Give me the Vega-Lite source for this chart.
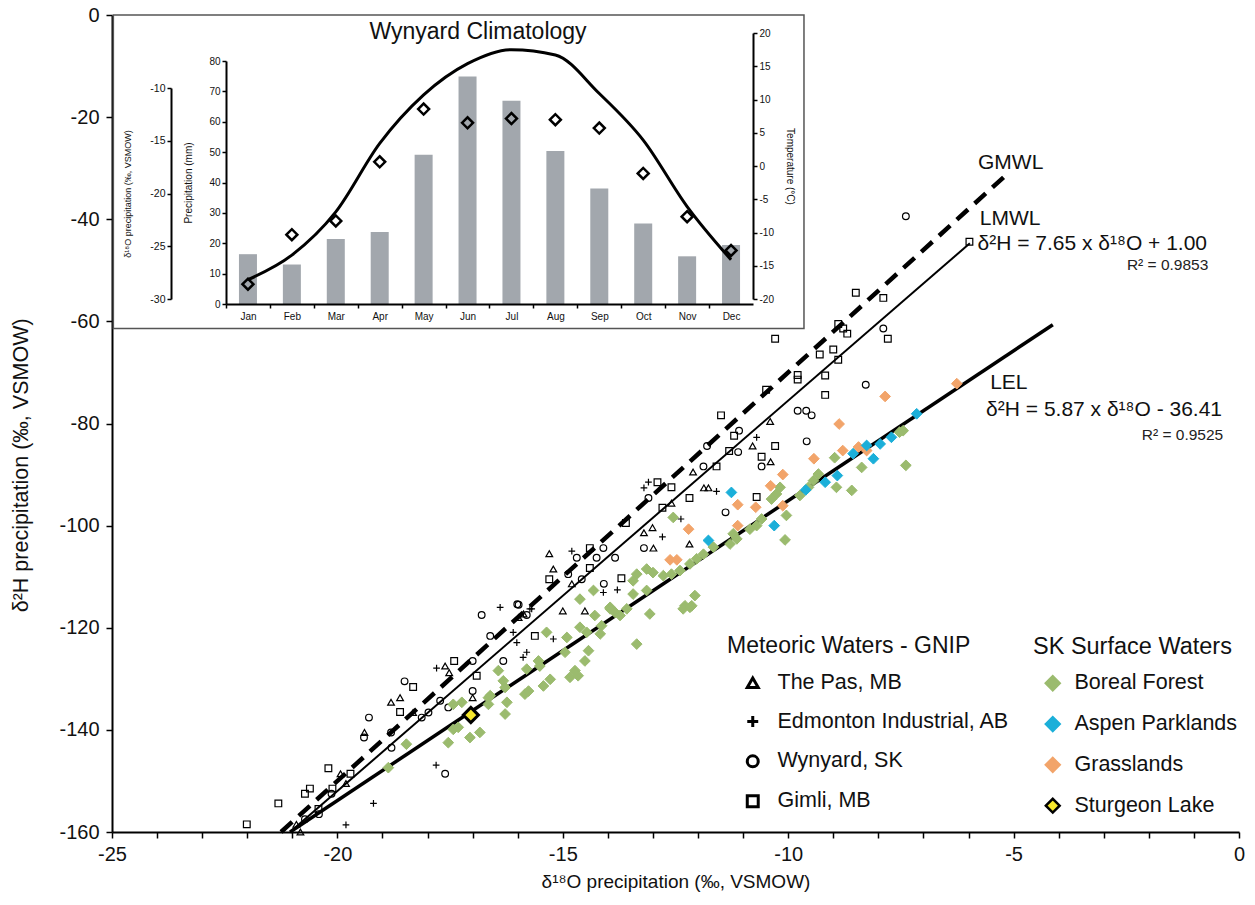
{
  "$schema": "https://vega.github.io/schema/vega-lite/v6.json",
  "width": 1127,
  "height": 817,
  "autosize": {"type": "none"},
  "padding": {"left": 112, "top": 15, "right": 16, "bottom": 73},
  "background": "white",
  "config": {
    "font": "Liberation Sans",
    "view": {"stroke": null}
  },
  "datasets": {
    "lines": [
      {"line": "GMWL", "x": -21.25, "y": -160.0},
      {"line": "GMWL", "x": -5.1, "y": -30.8},
      {"line": "LMWL", "x": -21.05, "y": -160.0},
      {"line": "LMWL", "x": -5.97, "y": -44.7},
      {"line": "LEL", "x": -21.05, "y": -160.0},
      {"line": "LEL", "x": -4.13, "y": -60.65}
    ],
    "meteoric": [
      {"station": "Gimli, MB", "x": -8.50, "y": -54.4},
      {"station": "Gimli, MB", "x": -7.89, "y": -55.4},
      {"station": "Gimli, MB", "x": -8.89, "y": -60.5},
      {"station": "Gimli, MB", "x": -8.78, "y": -61.4},
      {"station": "Gimli, MB", "x": -8.69, "y": -62.4},
      {"station": "Gimli, MB", "x": -7.79, "y": -63.4},
      {"station": "Gimli, MB", "x": -10.29, "y": -63.4},
      {"station": "Gimli, MB", "x": -9.0, "y": -65.5},
      {"station": "Gimli, MB", "x": -9.30, "y": -66.5},
      {"station": "Gimli, MB", "x": -8.89, "y": -67.5},
      {"station": "Gimli, MB", "x": -9.79, "y": -70.5},
      {"station": "Gimli, MB", "x": -9.79, "y": -71.4},
      {"station": "Gimli, MB", "x": -9.18, "y": -70.6},
      {"station": "Gimli, MB", "x": -9.18, "y": -74.4},
      {"station": "Gimli, MB", "x": -10.49, "y": -73.4},
      {"station": "Gimli, MB", "x": -11.49, "y": -78.4},
      {"station": "Gimli, MB", "x": -10.29, "y": -84.4},
      {"station": "Gimli, MB", "x": -10.59, "y": -86.5},
      {"station": "Gimli, MB", "x": -11.20, "y": -82.4},
      {"station": "Gimli, MB", "x": -11.31, "y": -85.4},
      {"station": "Gimli, MB", "x": -11.59, "y": -88.4},
      {"station": "Gimli, MB", "x": -12.90, "y": -91.5},
      {"station": "Gimli, MB", "x": -12.59, "y": -92.5},
      {"station": "Gimli, MB", "x": -12.19, "y": -94.6},
      {"station": "Gimli, MB", "x": -12.79, "y": -96.5},
      {"station": "Gimli, MB", "x": -10.70, "y": -94.4},
      {"station": "Gimli, MB", "x": -13.60, "y": -99.5},
      {"station": "Gimli, MB", "x": -14.40, "y": -104.4},
      {"station": "Gimli, MB", "x": -15.30, "y": -110.5},
      {"station": "Gimli, MB", "x": -13.70, "y": -110.3},
      {"station": "Gimli, MB", "x": -14.40, "y": -108.3},
      {"station": "Gimli, MB", "x": -5.98, "y": -44.4},
      {"station": "Gimli, MB", "x": -22.01, "y": -158.5},
      {"station": "Gimli, MB", "x": -21.31, "y": -154.4},
      {"station": "Gimli, MB", "x": -20.72, "y": -152.5},
      {"station": "Gimli, MB", "x": -20.61, "y": -151.5},
      {"station": "Gimli, MB", "x": -20.20, "y": -147.5},
      {"station": "Gimli, MB", "x": -20.11, "y": -151.5},
      {"station": "Gimli, MB", "x": -19.71, "y": -148.6},
      {"station": "Gimli, MB", "x": -18.61, "y": -136.5},
      {"station": "Gimli, MB", "x": -18.32, "y": -131.6},
      {"station": "Gimli, MB", "x": -17.41, "y": -126.5},
      {"station": "Gimli, MB", "x": -16.91, "y": -129.4},
      {"station": "Gimli, MB", "x": -20.42, "y": -155.5},
      {"station": "Gimli, MB", "x": -15.62, "y": -121.6},
      {"station": "Wynyard, SK", "x": -7.39, "y": -39.4},
      {"station": "Wynyard, SK", "x": -7.89, "y": -61.4},
      {"station": "Wynyard, SK", "x": -8.28, "y": -72.4},
      {"station": "Wynyard, SK", "x": -9.79, "y": -77.5},
      {"station": "Wynyard, SK", "x": -9.60, "y": -77.5},
      {"station": "Wynyard, SK", "x": -9.48, "y": -78.4},
      {"station": "Wynyard, SK", "x": -9.59, "y": -83.5},
      {"station": "Wynyard, SK", "x": -11.09, "y": -81.4},
      {"station": "Wynyard, SK", "x": -11.11, "y": -85.6},
      {"station": "Wynyard, SK", "x": -10.59, "y": -88.4},
      {"station": "Wynyard, SK", "x": -11.80, "y": -84.4},
      {"station": "Wynyard, SK", "x": -11.88, "y": -88.4},
      {"station": "Wynyard, SK", "x": -13.10, "y": -94.6},
      {"station": "Wynyard, SK", "x": -11.39, "y": -97.4},
      {"station": "Wynyard, SK", "x": -13.20, "y": -104.4},
      {"station": "Wynyard, SK", "x": -14.10, "y": -104.4},
      {"station": "Wynyard, SK", "x": -14.69, "y": -106.3},
      {"station": "Wynyard, SK", "x": -14.25, "y": -106.3},
      {"station": "Wynyard, SK", "x": -13.84, "y": -106.3},
      {"station": "Wynyard, SK", "x": -14.88, "y": -109.5},
      {"station": "Wynyard, SK", "x": -14.58, "y": -110.5},
      {"station": "Wynyard, SK", "x": -14.09, "y": -111.4},
      {"station": "Wynyard, SK", "x": -16.01, "y": -115.4},
      {"station": "Wynyard, SK", "x": -20.72, "y": -157.5},
      {"station": "Wynyard, SK", "x": -20.41, "y": -156.5},
      {"station": "Wynyard, SK", "x": -20.13, "y": -152.5},
      {"station": "Wynyard, SK", "x": -19.30, "y": -137.6},
      {"station": "Wynyard, SK", "x": -19.41, "y": -141.5},
      {"station": "Wynyard, SK", "x": -18.81, "y": -140.5},
      {"station": "Wynyard, SK", "x": -18.80, "y": -143.5},
      {"station": "Wynyard, SK", "x": -18.51, "y": -130.5},
      {"station": "Wynyard, SK", "x": -18.13, "y": -137.6},
      {"station": "Wynyard, SK", "x": -17.98, "y": -136.6},
      {"station": "Wynyard, SK", "x": -17.72, "y": -134.3},
      {"station": "Wynyard, SK", "x": -17.54, "y": -135.6},
      {"station": "Wynyard, SK", "x": -17.00, "y": -126.5},
      {"station": "Wynyard, SK", "x": -17.00, "y": -132.4},
      {"station": "Wynyard, SK", "x": -16.80, "y": -117.5},
      {"station": "Wynyard, SK", "x": -16.61, "y": -121.6},
      {"station": "Wynyard, SK", "x": -17.61, "y": -148.6},
      {"station": "Wynyard, SK", "x": -15.98, "y": -115.5},
      {"station": "Wynyard, SK", "x": -15.80, "y": -117.5},
      {"station": "Wynyard, SK", "x": -16.32, "y": -126.5},
      {"station": "The Pas, MB", "x": -10.40, "y": -79.6},
      {"station": "The Pas, MB", "x": -10.79, "y": -84.4},
      {"station": "The Pas, MB", "x": -10.39, "y": -87.5},
      {"station": "The Pas, MB", "x": -12.11, "y": -89.5},
      {"station": "The Pas, MB", "x": -11.87, "y": -92.6},
      {"station": "The Pas, MB", "x": -11.77, "y": -92.6},
      {"station": "The Pas, MB", "x": -12.59, "y": -95.6},
      {"station": "The Pas, MB", "x": -13.20, "y": -101.4},
      {"station": "The Pas, MB", "x": -13.01, "y": -100.4},
      {"station": "The Pas, MB", "x": -12.99, "y": -104.4},
      {"station": "The Pas, MB", "x": -12.19, "y": -103.6},
      {"station": "The Pas, MB", "x": -15.30, "y": -105.5},
      {"station": "The Pas, MB", "x": -15.21, "y": -108.5},
      {"station": "The Pas, MB", "x": -14.80, "y": -111.4},
      {"station": "The Pas, MB", "x": -20.91, "y": -158.5},
      {"station": "The Pas, MB", "x": -20.82, "y": -160.0},
      {"station": "The Pas, MB", "x": -19.93, "y": -148.6},
      {"station": "The Pas, MB", "x": -19.81, "y": -150.5},
      {"station": "The Pas, MB", "x": -19.40, "y": -140.5},
      {"station": "The Pas, MB", "x": -18.81, "y": -134.6},
      {"station": "The Pas, MB", "x": -18.61, "y": -133.7},
      {"station": "The Pas, MB", "x": -18.32, "y": -136.6},
      {"station": "The Pas, MB", "x": -17.61, "y": -127.5},
      {"station": "The Pas, MB", "x": -17.52, "y": -128.8},
      {"station": "The Pas, MB", "x": -17.00, "y": -133.7},
      {"station": "The Pas, MB", "x": -15.98, "y": -118.0},
      {"station": "The Pas, MB", "x": -15.87, "y": -117.3},
      {"station": "The Pas, MB", "x": -15.00, "y": -116.7},
      {"station": "The Pas, MB", "x": -14.51, "y": -116.7},
      {"station": "Edmonton Industrial, AB", "x": -10.70, "y": -82.7},
      {"station": "Edmonton Industrial, AB", "x": -11.59, "y": -93.3},
      {"station": "Edmonton Industrial, AB", "x": -13.10, "y": -91.5},
      {"station": "Edmonton Industrial, AB", "x": -13.20, "y": -92.6},
      {"station": "Edmonton Industrial, AB", "x": -12.38, "y": -98.7},
      {"station": "Edmonton Industrial, AB", "x": -12.79, "y": -102.2},
      {"station": "Edmonton Industrial, AB", "x": -14.80, "y": -105.0},
      {"station": "Edmonton Industrial, AB", "x": -13.79, "y": -112.6},
      {"station": "Edmonton Industrial, AB", "x": -14.10, "y": -113.1},
      {"station": "Edmonton Industrial, AB", "x": -15.73, "y": -116.3},
      {"station": "Edmonton Industrial, AB", "x": -17.80, "y": -127.9},
      {"station": "Edmonton Industrial, AB", "x": -17.81, "y": -146.9},
      {"station": "Edmonton Industrial, AB", "x": -19.20, "y": -154.4},
      {"station": "Edmonton Industrial, AB", "x": -19.81, "y": -158.6},
      {"station": "Edmonton Industrial, AB", "x": -16.39, "y": -116.0},
      {"station": "Edmonton Industrial, AB", "x": -16.10, "y": -120.9},
      {"station": "Edmonton Industrial, AB", "x": -16.02, "y": -122.9},
      {"station": "Edmonton Industrial, AB", "x": -15.88, "y": -125.8},
      {"station": "Edmonton Industrial, AB", "x": -15.80, "y": -124.8},
      {"station": "Edmonton Industrial, AB", "x": -15.69, "y": -116.3},
      {"station": "Edmonton Industrial, AB", "x": -15.21, "y": -122.2}
    ],
    "surface": [
      {"region": "Boreal Forest", "x": -7.45, "y": -81.4},
      {"region": "Boreal Forest", "x": -7.53, "y": -81.7},
      {"region": "Boreal Forest", "x": -7.39, "y": -88.2},
      {"region": "Boreal Forest", "x": -8.37, "y": -88.6},
      {"region": "Boreal Forest", "x": -8.59, "y": -93.1},
      {"region": "Boreal Forest", "x": -8.93, "y": -92.5},
      {"region": "Boreal Forest", "x": -8.97, "y": -86.7},
      {"region": "Boreal Forest", "x": -9.33, "y": -89.9},
      {"region": "Boreal Forest", "x": -9.44, "y": -91.2},
      {"region": "Boreal Forest", "x": -9.55, "y": -92.5},
      {"region": "Boreal Forest", "x": -9.74, "y": -94.1},
      {"region": "Boreal Forest", "x": -10.04, "y": -98.0},
      {"region": "Boreal Forest", "x": -10.07, "y": -102.8},
      {"region": "Boreal Forest", "x": -10.18, "y": -92.5},
      {"region": "Boreal Forest", "x": -10.26, "y": -93.8},
      {"region": "Boreal Forest", "x": -10.37, "y": -94.8},
      {"region": "Boreal Forest", "x": -10.59, "y": -98.7},
      {"region": "Boreal Forest", "x": -10.70, "y": -100.0},
      {"region": "Boreal Forest", "x": -10.85, "y": -100.7},
      {"region": "Boreal Forest", "x": -11.22, "y": -101.6},
      {"region": "Boreal Forest", "x": -11.29, "y": -103.6},
      {"region": "Boreal Forest", "x": -11.14, "y": -102.6},
      {"region": "Boreal Forest", "x": -11.66, "y": -104.2},
      {"region": "Boreal Forest", "x": -11.88, "y": -105.6},
      {"region": "Boreal Forest", "x": -12.03, "y": -106.5},
      {"region": "Boreal Forest", "x": -12.18, "y": -107.5},
      {"region": "Boreal Forest", "x": -12.55, "y": -98.4},
      {"region": "Boreal Forest", "x": -12.40, "y": -108.8},
      {"region": "Boreal Forest", "x": -12.59, "y": -109.5},
      {"region": "Boreal Forest", "x": -12.77, "y": -109.8},
      {"region": "Boreal Forest", "x": -13.0, "y": -109.2},
      {"region": "Boreal Forest", "x": -13.14, "y": -108.5},
      {"region": "Boreal Forest", "x": -13.36, "y": -109.5},
      {"region": "Boreal Forest", "x": -13.44, "y": -110.8},
      {"region": "Boreal Forest", "x": -13.14, "y": -112.7},
      {"region": "Boreal Forest", "x": -13.44, "y": -113.4},
      {"region": "Boreal Forest", "x": -12.07, "y": -113.7},
      {"region": "Boreal Forest", "x": -12.29, "y": -115.7},
      {"region": "Boreal Forest", "x": -12.14, "y": -115.7},
      {"region": "Boreal Forest", "x": -13.58, "y": -116.3},
      {"region": "Boreal Forest", "x": -14.32, "y": -112.7},
      {"region": "Boreal Forest", "x": -14.62, "y": -114.4},
      {"region": "Boreal Forest", "x": -13.95, "y": -116.0},
      {"region": "Boreal Forest", "x": -16.84, "y": -140.5},
      {"region": "Boreal Forest", "x": -16.65, "y": -135.0},
      {"region": "Boreal Forest", "x": -16.61, "y": -133.3},
      {"region": "Boreal Forest", "x": -16.28, "y": -136.9},
      {"region": "Boreal Forest", "x": -16.24, "y": -134.6},
      {"region": "Boreal Forest", "x": -16.43, "y": -128.4},
      {"region": "Boreal Forest", "x": -16.28, "y": -131.7},
      {"region": "Boreal Forest", "x": -16.32, "y": -130.4},
      {"region": "Boreal Forest", "x": -15.84, "y": -133.0},
      {"region": "Boreal Forest", "x": -15.76, "y": -132.4},
      {"region": "Boreal Forest", "x": -15.80, "y": -128.1},
      {"region": "Boreal Forest", "x": -15.54, "y": -126.5},
      {"region": "Boreal Forest", "x": -15.51, "y": -127.5},
      {"region": "Boreal Forest", "x": -15.36, "y": -120.9},
      {"region": "Boreal Forest", "x": -15.43, "y": -131.4},
      {"region": "Boreal Forest", "x": -15.28, "y": -130.1},
      {"region": "Boreal Forest", "x": -14.91, "y": -121.9},
      {"region": "Boreal Forest", "x": -14.95, "y": -124.8},
      {"region": "Boreal Forest", "x": -14.84, "y": -129.7},
      {"region": "Boreal Forest", "x": -14.73, "y": -128.4},
      {"region": "Boreal Forest", "x": -14.66, "y": -129.4},
      {"region": "Boreal Forest", "x": -14.62, "y": -119.9},
      {"region": "Boreal Forest", "x": -14.47, "y": -120.9},
      {"region": "Boreal Forest", "x": -14.43, "y": -124.5},
      {"region": "Boreal Forest", "x": -14.51, "y": -126.5},
      {"region": "Boreal Forest", "x": -14.29, "y": -117.6},
      {"region": "Boreal Forest", "x": -14.14, "y": -119.6},
      {"region": "Boreal Forest", "x": -14.17, "y": -121.2},
      {"region": "Boreal Forest", "x": -13.95, "y": -116.3},
      {"region": "Boreal Forest", "x": -13.84, "y": -117.0},
      {"region": "Boreal Forest", "x": -13.73, "y": -117.6},
      {"region": "Boreal Forest", "x": -13.36, "y": -123.2},
      {"region": "Boreal Forest", "x": -13.07, "y": -117.3},
      {"region": "Boreal Forest", "x": -12.33, "y": -116.3},
      {"region": "Boreal Forest", "x": -12.18, "y": -116.0},
      {"region": "Boreal Forest", "x": -18.87, "y": -147.4},
      {"region": "Boreal Forest", "x": -18.47, "y": -142.8},
      {"region": "Boreal Forest", "x": -17.54, "y": -142.5},
      {"region": "Boreal Forest", "x": -17.43, "y": -139.9},
      {"region": "Boreal Forest", "x": -17.32, "y": -139.5},
      {"region": "Boreal Forest", "x": -17.06, "y": -141.5},
      {"region": "Boreal Forest", "x": -17.43, "y": -135.0},
      {"region": "Boreal Forest", "x": -17.24, "y": -134.6},
      {"region": "Boreal Forest", "x": -16.65, "y": -133.7},
      {"region": "Grasslands", "x": -7.85, "y": -74.7},
      {"region": "Grasslands", "x": -8.87, "y": -80.1},
      {"region": "Grasslands", "x": -9.43, "y": -86.9},
      {"region": "Grasslands", "x": -10.12, "y": -90.0},
      {"region": "Grasslands", "x": -10.39, "y": -92.2},
      {"region": "Grasslands", "x": -11.12, "y": -95.9},
      {"region": "Grasslands", "x": -10.72, "y": -96.4},
      {"region": "Grasslands", "x": -10.12, "y": -96.1},
      {"region": "Grasslands", "x": -11.12, "y": -100.0},
      {"region": "Grasslands", "x": -12.21, "y": -100.7},
      {"region": "Grasslands", "x": -8.79, "y": -85.3},
      {"region": "Grasslands", "x": -8.44, "y": -84.6},
      {"region": "Grasslands", "x": -8.26, "y": -85.3},
      {"region": "Grasslands", "x": -12.62, "y": -106.7},
      {"region": "Grasslands", "x": -12.47, "y": -106.7},
      {"region": "Grasslands", "x": -6.26, "y": -72.2},
      {"region": "Aspen Parklands", "x": -7.15, "y": -78.1},
      {"region": "Aspen Parklands", "x": -7.71, "y": -82.7},
      {"region": "Aspen Parklands", "x": -7.96, "y": -84.0},
      {"region": "Aspen Parklands", "x": -8.26, "y": -84.3},
      {"region": "Aspen Parklands", "x": -8.11, "y": -86.9},
      {"region": "Aspen Parklands", "x": -8.56, "y": -85.9},
      {"region": "Aspen Parklands", "x": -8.91, "y": -90.2},
      {"region": "Aspen Parklands", "x": -9.18, "y": -91.5},
      {"region": "Aspen Parklands", "x": -9.61, "y": -93.0},
      {"region": "Aspen Parklands", "x": -10.31, "y": -100.0},
      {"region": "Aspen Parklands", "x": -11.26, "y": -93.5},
      {"region": "Aspen Parklands", "x": -11.77, "y": -102.9}
    ],
    "sturgeon": [
      {"region": "Sturgeon Lake", "x": -17.04, "y": -137.1}
    ],
    "clim": [
      {"month": "Jan", "precip": 16.4, "temp": -17.1, "d18o": -28.6},
      {"month": "Feb", "precip": 13.0, "temp": -13.4, "d18o": -23.9},
      {"month": "Mar", "precip": 21.4, "temp": -6.9, "d18o": -22.6},
      {"month": "Apr", "precip": 23.7, "temp": 3.4, "d18o": -17.0},
      {"month": "May", "precip": 49.1, "temp": 10.7, "d18o": -12.0},
      {"month": "Jun", "precip": 74.9, "temp": 15.4, "d18o": -13.3},
      {"month": "Jul", "precip": 66.9, "temp": 17.5, "d18o": -12.9},
      {"month": "Aug", "precip": 50.4, "temp": 16.7, "d18o": -13.0},
      {"month": "Sep", "precip": 38.0, "temp": 10.9, "d18o": -13.8},
      {"month": "Oct", "precip": 26.5, "temp": 3.9, "d18o": -18.1},
      {"month": "Nov", "precip": 15.7, "temp": -6.1, "d18o": -22.2},
      {"month": "Dec", "precip": 19.4, "temp": -14.1, "d18o": -25.4}
    ]
  },
  "layer": [
    {
      "layer": [
        {
          "data": {"name": "lines"},
          "transform": [{"filter": "datum.line === 'GMWL'"}],
          "mark": {"type": "line", "color": "black", "strokeWidth": 4.5, "strokeDash": [15, 9]},
          "encoding": {
            "x": {"field": "x", "type": "quantitative", "scale": {"domain": [-25, 0], "nice": false, "zero": false},
              "axis": {"orient": "bottom", "grid": false, "values": [-25,-24,-23,-22,-21,-20,-19,-18,-17,-16,-15,-14,-13,-12,-11,-10,-9,-8,-7,-6,-5,-4,-3,-2,-1,0],
                "labelExpr": "datum.value % 5 === 0 ? '' + datum.value : ''", "labelFontSize": 20, "labelColor": "#111111", "labelFlush": false, "labelOverlap": false,
                "tickSize": 6, "tickWidth": 1.5, "tickColor": "black", "domainWidth": 2, "domainColor": "black", "labelPadding": 6,
                "title": "δ¹⁸O precipitation (‰, VSMOW)", "titleFontSize": 19, "titleFontWeight": "normal", "titleColor": "#111111", "titlePadding": 8}},
            "y": {"field": "y", "type": "quantitative", "scale": {"domain": [-160, 0], "nice": false, "zero": false},
              "axis": {"orient": "left", "grid": false, "values": [-160,-140,-120,-100,-80,-60,-40,-20,0],
                "labelExpr": "'' + datum.value", "labelFontSize": 20, "labelColor": "#111111", "labelFlush": false, "labelOverlap": false,
                "tickSize": 6, "tickWidth": 1.5, "tickColor": "black", "domainWidth": 2, "domainColor": "black", "labelPadding": 7,
                "title": null}}
          }
        },
        {
          "data": {"name": "lines"},
          "transform": [{"filter": "datum.line === 'LMWL'"}],
          "mark": {"type": "line", "color": "black", "strokeWidth": 2},
          "encoding": {"x": {"field": "x", "type": "quantitative"}, "y": {"field": "y", "type": "quantitative"}}
        },
        {
          "data": {"name": "lines"},
          "transform": [{"filter": "datum.line === 'LEL'"}],
          "mark": {"type": "line", "color": "black", "strokeWidth": 3.5},
          "encoding": {"x": {"field": "x", "type": "quantitative"}, "y": {"field": "y", "type": "quantitative"}}
        },
        {
          "data": {"name": "meteoric"},
          "mark": {"type": "point", "filled": false, "color": "black", "strokeWidth": 1.2, "size": 45, "opacity": 1},
          "encoding": {
            "x": {"field": "x", "type": "quantitative"},
            "y": {"field": "y", "type": "quantitative"},
            "shape": {"field": "station", "type": "nominal",
              "scale": {"domain": ["The Pas, MB", "Edmonton Industrial, AB", "Wynyard, SK", "Gimli, MB"], "range": ["triangle-up", "M-1,0L1,0M0,-1L0,1", "circle", "square"]},
              "legend": {"title": "Meteoric Waters - GNIP", "orient": "none", "legendX": 615, "legendY": 620, "titleFontSize": 23, "titleFontWeight": "normal", "titleColor": "#111111", "titleLimit": 500,
                "labelFontSize": 21.5, "labelColor": "#111111", "labelLimit": 500, "symbolSize": 120, "symbolStrokeWidth": 3, "symbolStrokeColor": "black", "symbolFillColor": "transparent",
                "symbolOffset": 15, "labelOffset": 14, "rowPadding": 15.8, "titlePadding": 14}}
          }
        },
        {
          "data": {"name": "surface"},
          "mark": {"type": "point", "shape": "diamond", "filled": true, "size": 115, "strokeWidth": 1, "opacity": 1},
          "encoding": {
            "x": {"field": "x", "type": "quantitative"},
            "y": {"field": "y", "type": "quantitative"},
            "fill": {"field": "region", "type": "nominal",
              "scale": {"domain": ["Boreal Forest", "Aspen Parklands", "Grasslands", "Sturgeon Lake"], "range": ["#9bbb6e", "#1bafd9", "#f2a46a", "#f7e82c"]},
              "legend": {"title": "SK Surface Waters", "orient": "none", "legendX": 921, "legendY": 620, "titleFontSize": 23.5, "titleFontWeight": "normal", "titleColor": "#111111", "titleLimit": 500,
                "labelFontSize": 21.5, "labelColor": "#111111", "labelLimit": 500, "symbolType": "diamond", "symbolSize": 190, "symbolStrokeWidth": 2.5,
                "symbolOffset": 9, "labelOffset": 11, "rowPadding": 15.8, "titlePadding": 14}},
            "stroke": {"field": "region", "type": "nominal",
              "scale": {"domain": ["Boreal Forest", "Aspen Parklands", "Grasslands", "Sturgeon Lake"], "range": ["#9bbb6e", "#1bafd9", "#f2a46a", "#000000"]},
              "legend": {"title": "SK Surface Waters", "orient": "none", "legendX": 921, "legendY": 620, "titleFontSize": 23.5, "titleFontWeight": "normal", "titleColor": "#111111", "titleLimit": 500,
                "labelFontSize": 21.5, "labelColor": "#111111", "labelLimit": 500, "symbolType": "diamond", "symbolSize": 190, "symbolStrokeWidth": 2.5,
                "symbolOffset": 9, "labelOffset": 11, "rowPadding": 15.8, "titlePadding": 14}}
          }
        },
        {
          "data": {"name": "sturgeon"},
          "mark": {"type": "point", "shape": "diamond", "filled": true, "size": 230, "strokeWidth": 3, "opacity": 1},
          "encoding": {
            "x": {"field": "x", "type": "quantitative"},
            "y": {"field": "y", "type": "quantitative"},
            "fill": {"field": "region", "type": "nominal"},
            "stroke": {"field": "region", "type": "nominal"}
          }
        },
        {
          "data": {"values": [{}]},
          "mark": {"type": "text", "align": "center", "baseline": "middle", "angle": 270, "fontSize": 21.5, "color": "#111111", "text": "δ²H precipitation (‰, VSMOW)"},
          "encoding": {"x": {"datum": -27.0, "type": "quantitative"}, "y": {"datum": -88.2, "type": "quantitative"}}
        },
        {
          "data": {"values": [{}]},
          "mark": {"type": "text", "align": "left", "baseline": "alphabetic", "fontSize": 21, "color": "#111111", "text": "GMWL"},
          "encoding": {"x": {"datum": -5.79, "type": "quantitative"}, "y": {"datum": -30.2, "type": "quantitative"}}
        },
        {
          "data": {"values": [{}]},
          "mark": {"type": "text", "align": "left", "baseline": "alphabetic", "fontSize": 21, "color": "#111111", "text": "LMWL"},
          "encoding": {"x": {"datum": -5.75, "type": "quantitative"}, "y": {"datum": -41.2, "type": "quantitative"}}
        },
        {
          "data": {"values": [{}]},
          "mark": {"type": "text", "align": "left", "baseline": "alphabetic", "fontSize": 21, "color": "#111111", "text": "δ²H = 7.65 x δ¹⁸O + 1.00"},
          "encoding": {"x": {"datum": -5.80, "type": "quantitative"}, "y": {"datum": -46.1, "type": "quantitative"}}
        },
        {
          "data": {"values": [{}]},
          "mark": {"type": "text", "align": "right", "baseline": "alphabetic", "fontSize": 15.5, "color": "#222222", "text": "R² = 0.9853"},
          "encoding": {"x": {"datum": -0.68, "type": "quantitative"}, "y": {"datum": -50.0, "type": "quantitative"}}
        },
        {
          "data": {"values": [{}]},
          "mark": {"type": "text", "align": "left", "baseline": "alphabetic", "fontSize": 21, "color": "#111111", "text": "LEL"},
          "encoding": {"x": {"datum": -5.52, "type": "quantitative"}, "y": {"datum": -73.2, "type": "quantitative"}}
        },
        {
          "data": {"values": [{}]},
          "mark": {"type": "text", "align": "left", "baseline": "alphabetic", "fontSize": 21, "color": "#111111", "text": "δ²H = 5.87 x δ¹⁸O - 36.41"},
          "encoding": {"x": {"datum": -5.61, "type": "quantitative"}, "y": {"datum": -78.6, "type": "quantitative"}}
        },
        {
          "data": {"values": [{}]},
          "mark": {"type": "text", "align": "right", "baseline": "alphabetic", "fontSize": 15.5, "color": "#222222", "text": "R² = 0.9525"},
          "encoding": {"x": {"datum": -0.35, "type": "quantitative"}, "y": {"datum": -83.2, "type": "quantitative"}}
        },
        {
          "data": {"values": [{}]},
          "mark": {"type": "rect", "fill": "white", "stroke": "#555555", "strokeWidth": 1.5},
          "encoding": {
            "x": {"datum": -24.97, "type": "quantitative"}, "x2": {"datum": -9.65},
            "y": {"datum": 0, "type": "quantitative"}, "y2": {"datum": -61.4}
          }
        },
        {
          "data": {"values": [{}]},
          "mark": {"type": "text", "align": "center", "baseline": "alphabetic", "fontSize": 23, "color": "#111111", "text": "Wynyard Climatology"},
          "encoding": {"x": {"datum": -16.88, "type": "quantitative"}, "y": {"datum": -4.7, "type": "quantitative"}}
        }
      ]
    },
    {
      "data": {"name": "clim"},
      "encoding": {
        "x": {"field": "month", "type": "ordinal", "sort": null,
          "scale": {"range": [114, 641], "paddingInner": 0.59, "paddingOuter": 0.295},
          "axis": {"orient": "bottom", "offset": -528, "zindex": 1, "title": null, "labelAngle": 0, "labelFontSize": 10, "labelColor": "#111111", "labelPadding": 3,
            "tickSize": 4, "tickWidth": 1.5, "tickColor": "black", "domainWidth": 2, "domainColor": "black", "grid": false,
            "tickOffset": -22, "labelOffset": 22}}
      },
      "layer": [
        {
          "mark": {"type": "bar", "color": "#a2a7ad"},
          "encoding": {
            "y": {"field": "precip", "type": "quantitative", "scale": {"domain": [0, 80], "range": [289, 46], "nice": false},
              "axis": {"orient": "left", "offset": -114, "zindex": 1, "grid": false, "values": [0,10,20,30,40,50,60,70,80], "labelFontSize": 10, "labelColor": "#111111",
                "tickSize": 4, "tickWidth": 1.5, "tickColor": "black", "domainWidth": 2, "domainColor": "black", "labelPadding": 2,
                "title": "Precipitation (mm)", "titleFontSize": 10, "titleFontWeight": "normal", "titleColor": "#111111", "titlePadding": 15}}
          }
        },
        {
          "mark": {"type": "line", "color": "black", "strokeWidth": 3, "interpolate": "monotone"},
          "encoding": {
            "y": {"field": "temp", "type": "quantitative", "scale": {"domain": [-20, 20], "range": [284, 18], "nice": false, "zero": false},
              "axis": {"orient": "right", "offset": -486, "zindex": 1, "grid": false, "values": [-20,-15,-10,-5,0,5,10,15,20], "labelExpr": "'' + datum.value", "labelFontSize": 10, "labelColor": "#111111",
                "tickSize": 4, "tickWidth": 1.5, "tickColor": "black", "domainWidth": 2, "domainColor": "black", "labelPadding": 2,
                "title": "Temperature (°C)", "titleFontSize": 10, "titleFontWeight": "normal", "titleColor": "#111111", "titlePadding": 11}}
          }
        },
        {
          "mark": {"type": "point", "shape": "diamond", "filled": false, "color": "black", "strokeWidth": 2.5, "size": 120, "opacity": 1},
          "encoding": {
            "y": {"field": "d18o", "type": "quantitative", "scale": {"domain": [-30, -10], "range": [284, 73], "nice": false, "zero": false},
              "axis": {"orient": "left", "offset": -59, "zindex": 1, "grid": false, "values": [-30,-25,-20,-15,-10], "labelExpr": "'' + datum.value", "labelFontSize": 10.5, "labelColor": "#111111",
                "tickSize": 4, "tickWidth": 1.5, "tickColor": "black", "domainWidth": 2, "domainColor": "black", "labelPadding": 2,
                "title": "δ¹⁸O precipitation (‰, VSMOW)", "titleFontSize": 9, "titleFontWeight": "normal", "titleColor": "#111111", "titlePadding": 17}}
          }
        }
      ],
      "resolve": {"scale": {"y": "independent"}}
    }
  ],
  "resolve": {"scale": {"x": "independent", "y": "independent"}}
}
